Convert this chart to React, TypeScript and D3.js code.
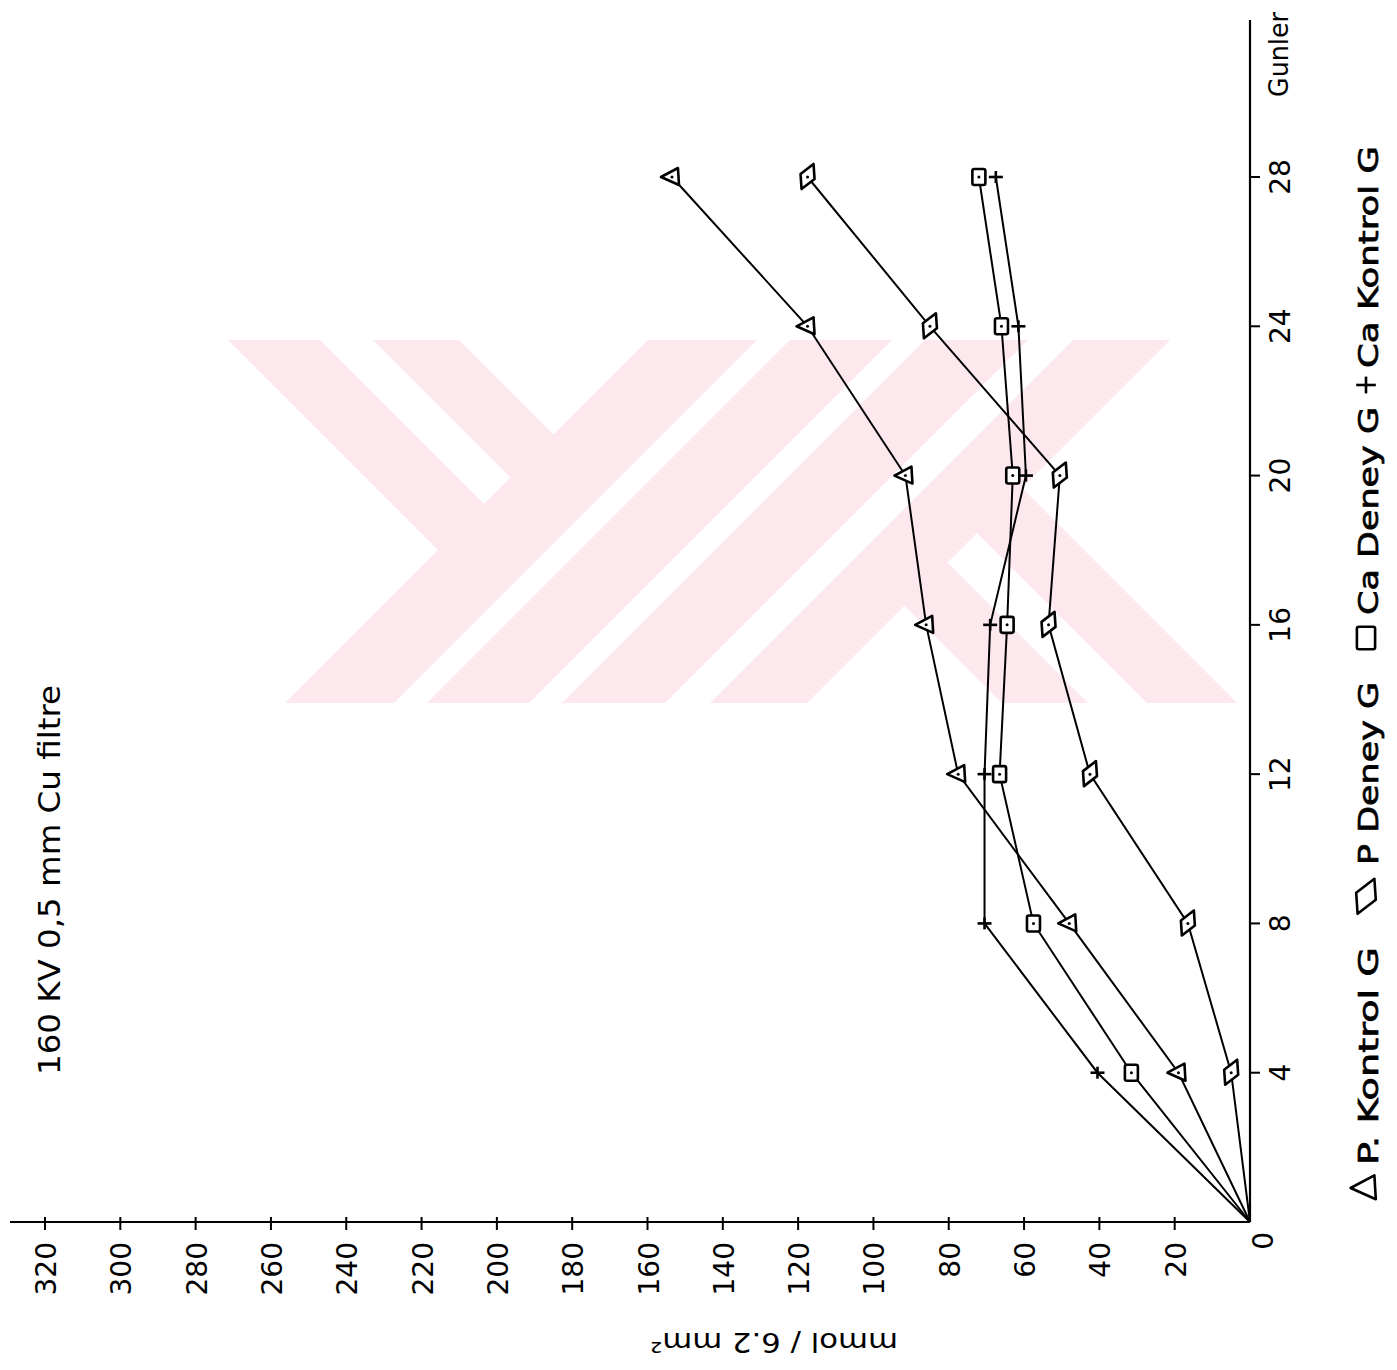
import React from 'react';
import * as d3 from 'd3';

// ---- data ----
const days = [0, 4, 8, 12, 16, 20, 24, 28];
const pKontrol = [0, 19, 48, 77.5, 86, 91.5, 117.5, 153.5];
const pDeney = [0, 5, 16.5, 42.5, 53.5, 50.5, 85, 117.5];
const caDeney = [0, 31.5, 57.5, 66.5, 64.5, 63, 66, 72];
const caKontrol = [0, 40.5, 70.5, 70.5, 69, 59.5, 61.5, 67.5];

const dayTicks = [4, 8, 12, 16, 20, 24, 28];
const valueTicks = [0, 20, 40, 60, 80, 100, 120, 140, 160, 180, 200, 220, 240, 260, 280, 300, 320];
const seriesNames = ['P. Kontrol G', 'P Deney G', 'Ca Deney G', 'Ca Kontrol G'];
const seriesMarkers = ['triangle', 'parallelogram', 'square', 'plus'];
const titleText = '160  KV  0,5 mm Cu filtre';
const dayAxisTitle = 'Gunler';
const valueAxisTitle = 'mmol / 6.2 mm²';

const FONT = '"DejaVu Sans", sans-serif';
const PINK = '#fce8ed';

function Marker({ type, x, y, s = 1 }: { type: string; x: number; y: number; s?: number }) {
  const sw = 2.6;
  if (type === 'triangle') {
    const d = `M${x - 11 * s},${y} L${x + 6 * s},${y - 9 * s} L${x + 7 * s},${y + 8 * s} Z`;
    return (
      <g>
        <path d={d} fill="white" stroke="black" strokeWidth={sw} strokeLinejoin="round" />
        {s === 1 && <circle cx={x} cy={y} r={1.5} fill="black" />}
      </g>
    );
  }
  if (type === 'parallelogram') {
    const d = `M${x + 6 * s},${y - 13 * s} L${x + 7 * s},${y + 2 * s} L${x - 6 * s},${y + 12 * s} L${x - 7 * s},${y - 3 * s} Z`;
    return (
      <g>
        <path d={d} fill="white" stroke="black" strokeWidth={sw} strokeLinejoin="round" />
        {s === 1 && <circle cx={x} cy={y} r={1.5} fill="black" />}
      </g>
    );
  }
  if (type === 'square') {
    return (
      <g>
        <rect x={x - 6.5 * s} y={y - 8 * s} width={13 * s} height={16 * s} rx={2} fill="white" stroke="black" strokeWidth={sw} />
        {s === 1 && <circle cx={x} cy={y} r={1.5} fill="black" />}
      </g>
    );
  }
  return (
    <g stroke="black" strokeWidth={2.6}>
      <line x1={x - 7 * s} y1={y} x2={x + 7 * s} y2={y} />
      <line x1={x} y1={y - 6 * s} x2={x} y2={y + 6 * s} />
    </g>
  );
}

// watermark geometry helpers ("/" bands in u=x+y, "\" bands in v=x-y)
function slashBand(u1: number, u2: number) {
  const t = 300, b = 760;
  return `M${u1 - t},${t} L${u2 - t},${t} L${u2 - b},${b} L${u1 - b},${b} Z`;
}
function backBandUntil(v1: number, v2: number, U: number) {
  const t = 300;
  return `M${v1 + t},${t} L${v2 + t},${t} L${(U + v2) / 2},${(U - v2) / 2} L${(U + v1) / 2},${(U - v1) / 2} Z`;
}
function backBandFrom(v1: number, v2: number, U1: number, U2: number) {
  return `M${(U1 + v1) / 2},${(U1 - v1) / 2} L${(U1 + v2) / 2},${(U1 - v2) / 2} L${(U2 + v2) / 2},${(U2 - v2) / 2} L${(U2 + v1) / 2},${(U2 - v1) / 2} Z`;
}

export default function App() {
  const valueX = d3.scaleLinear().domain([0, 320]).range([1250, 45]);
  const dayY = d3.scaleLinear().domain([0, 28]).range([1222, 177]);

  const series = [pKontrol, pDeney, caDeney, caKontrol];
  const line = d3
    .line<number>()
    .x((d) => valueX(d))
    .y((_, i) => dayY(days[i]));

  const axisX0 = valueX(0);
  const axisY0 = dayY(0);

  const legendSymbolY = [1188, 897, 638, 385];
  const legendTextStart = [1165, 865, 615, 368];
  const legendTextLen = [218, 183, 208, 222];

  return (
    <svg
      width={1397}
      height={1370}
      style={{ position: 'absolute', left: 0, top: 0, background: 'white' }}
      fontFamily={FONT}
    >
      <rect x={0} y={0} width={1397} height={1370} fill="white" />
      {/* watermark */}
      <defs>
        <clipPath id="wm">
          <rect x={228} y={340} width={1012} height={363} />
        </clipPath>
      </defs>
      <g clipPath="url(#wm)" fill={PINK}>
        <path d={slashBand(988, 1097)} />
        <path d={slashBand(1130, 1232)} />
        <path d={slashBand(1265, 1368)} />
        <path d={slashBand(1413, 1510)} />
        <path d={backBandUntil(-112, -20, 1040)} />
        <path d={backBandUntil(33, 119, 1040)} />
        <path d={backBandFrom(299, 385, 1470, 2100)} />
        <path d={backBandFrom(444, 534, 1470, 2100)} />
      </g>

      {/* axes */}
      <line x1={axisX0} y1={20} x2={axisX0} y2={axisY0} stroke="black" strokeWidth={2.2} />
      <line x1={10} y1={axisY0} x2={axisX0} y2={axisY0} stroke="black" strokeWidth={2.2} />

      {/* value ticks & labels */}
      {valueTicks.map((v) => {
        const x = valueX(v);
        const isZero = v === 0;
        return (
          <g key={`v${v}`}>
            {!isZero && <line x1={x} y1={axisY0 - 5} x2={x} y2={axisY0 + 8} stroke="black" strokeWidth={2} />}
            <text
              transform={`translate(${isZero ? x + 23 : x + 11},${isZero ? 1232 : 1242}) rotate(-90)`}
              textAnchor="end"
              fontSize={28}
              fill="black"
            >
              {v}
            </text>
          </g>
        );
      })}

      {/* day ticks & labels */}
      {dayTicks.map((d) => {
        const y = dayY(d);
        return (
          <g key={`d${d}`}>
            <line x1={axisX0} y1={y} x2={axisX0 + 10} y2={y} stroke="black" strokeWidth={2} />
            <text transform={`translate(1290,${y}) rotate(-90)`} textAnchor="middle" fontSize={28} fill="black">
              {d}
            </text>
          </g>
        );
      })}
      <text transform="translate(1288,97) rotate(-90)" fontSize={27} fill="black" textLength={85} lengthAdjust="spacingAndGlyphs">
        {dayAxisTitle}
      </text>

      {/* value axis title (upside down) */}
      <text transform="translate(898,1333) rotate(180)" fontSize={27} fill="black" textLength={248} lengthAdjust="spacingAndGlyphs">
        {valueAxisTitle}
      </text>

      {/* title */}
      <text transform="translate(60,1075) rotate(-90)" fontSize={30} fill="black" textLength={390} lengthAdjust="spacingAndGlyphs">
        {titleText}
      </text>

      {/* lines */}
      {series.map((s, i) => (
        <path key={`l${i}`} d={line(s) || ''} fill="none" stroke="black" strokeWidth={2} />
      ))}
      {/* markers */}
      {series.map((s, i) =>
        s.map((v, j) =>
          j === 0 ? null : <Marker key={`m${i}-${j}`} type={seriesMarkers[i]} x={valueX(v)} y={dayY(days[j])} />
        )
      )}

      {/* legend */}
      {seriesNames.map((name, i) => (
        <g key={`lg${i}`}>
          <Marker type={seriesMarkers[i]} x={1366} y={legendSymbolY[i]} s={1.4} />
          <text
            transform={`translate(1378,${legendTextStart[i]}) rotate(-90)`}
            fontSize={27}
            fontWeight={400}
            stroke="black"
            strokeWidth={0.7}
            fill="black"
            textLength={legendTextLen[i]}
            lengthAdjust="spacingAndGlyphs"
          >
            {name}
          </text>
        </g>
      ))}
    </svg>
  );
}
